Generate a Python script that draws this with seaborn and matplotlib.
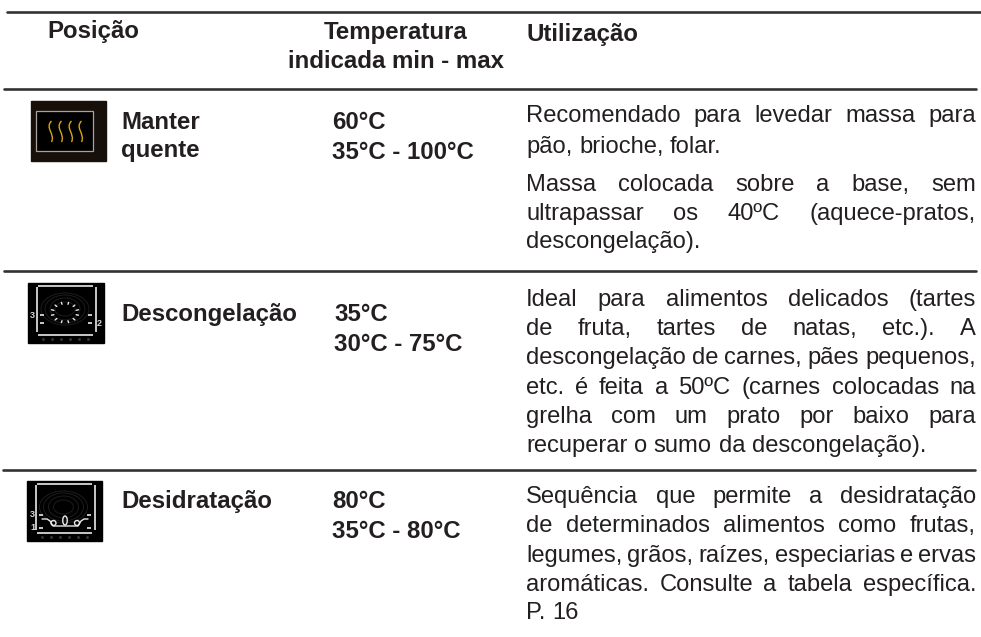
#!/usr/bin/env python
'''
Oven function table, drawn on one full-figure axes in pixel coordinates
'''
import numpy as np
import pandas as pd
import matplotlib
matplotlib.use('Agg')
import matplotlib.pyplot as plt
import seaborn as sns
from matplotlib.patches import Ellipse, PathPatch, Rectangle
from matplotlib.path import Path


# table contents
headers = ['Posição', 'Temperatura', 'indicada min - max', 'Utilização']
positions = [['Manter', 'quente'], ['Descongelação'], ['Desidratação']]
temperatures = [
    ['60°C', '35°C - 100°C'],
    ['35°C', '30°C - 75°C'],
    ['80°C', '35°C - 80°C'],
]
# (text, justified)
usage = [
    [('Recomendado para levedar massa para', True),
     ('pão, brioche, folar.', False),
     ('Massa colocada sobre a base, sem', True),
     ('ultrapassar os 40ºC (aquece-pratos,', True),
     ('descongelação).', False)],
    [('Ideal para alimentos delicados (tartes', True),
     ('de fruta, tartes de natas, etc.). A', True),
     ('descongelação de carnes, pães pequenos,', True),
     ('etc. é feita a 50ºC (carnes colocadas na', True),
     ('grelha com um prato por baixo para', True),
     ('recuperar o sumo da descongelação).', False)],
    [('Sequência que permite a desidratação', True),
     ('de determinados alimentos como frutas,', True),
     ('legumes, grãos, raízes, especiarias e ervas', True),
     ('aromáticas. Consulte a tabela específica.', True),
     ('P. 16', False)],
]

# layout in pixels
rule_y = [11.5, 89, 271, 470]
rule_x0 = [7, 4, 4, 3]
rule_x1 = [981, 976, 976, 975]
usage_y = [
    [122.3, 152.7, 190.7, 220, 248],
    [306, 335.3, 364.3, 394, 423.3, 452],
    [502.7, 532.3, 561.7, 591, 619.3],
]
position_y = [[129, 157], [321], [507.7]]
position_x = 121.5
temperature_x = [332, 334, 332]
temperature_y = [[129, 158.7], [321, 351], [508, 537.7]]

INK = '#231f20'
BODY_SIZE = 17.1
BOLD_SIZE = 17.3


def justified(ax, text, x0, x1, y, stretch):
    '''write a line word by word, spreading the words between x0 and x1'''
    renderer = ax.figure.canvas.get_renderer()
    words = text.split(' ')
    artists = [ax.text(0, y, w, color=INK, fontsize=BODY_SIZE, va='baseline')
               for w in words]
    widths = [a.get_window_extent(renderer).width for a in artists]
    if stretch:
        gap = (x1 - x0 - sum(widths)) / (len(words) - 1)
    else:
        gap = BODY_SIZE * 100 / 72 * 0.278
    x = x0
    for a, w in zip(artists, widths):
        a.set_x(x)
        x += w + gap


def oven_frame(ax, x0, y0, x1, y1, ticks, labels):
    '''black icon background with the oven outline and shelf marks'''
    ax.add_patch(Rectangle((x0, y0), x1 - x0, y1 - y0, color='black', zorder=3))
    cx = (x0 + x1) / 2 - 1
    # faint fan drawing behind the symbol
    for rx, ry in [(10, 7), (15, 11), (20, 14), (24, 16)]:
        ax.add_patch(Ellipse((cx, y0 + 26), rx * 2, ry * 2, fill=False,
                             ec='#1d1d1d', lw=0.7, zorder=4))
    white = {'color': '#c8c8c8', 'lw': 1.4, 'zorder': 5, 'solid_capstyle': 'butt'}
    ax.plot([x0 + 10, x0 + 65], [y0 + 2.7, y0 + 2.7], **white)
    ax.plot([x0 + 10, x0 + 65], [y0 + 51.5, y0 + 51.5], **white)
    ax.plot([x0 + 8.5, x0 + 8.5], [y0 + 4, y0 + 49], **white)
    ax.plot([x0 + 67.5, x0 + 67.5], [y0 + 4, y0 + 49], **white)
    for t in ticks:
        ax.plot([x0 + 11.5, x0 + 15.5], [y0 + t, y0 + t], **white)
        ax.plot([x0 + 60, x0 + 64], [y0 + t, y0 + t], **white)
    for lx, ly, s in labels:
        ax.text(x0 + lx, y0 + ly, s, color='#d8d8d8', fontsize=6.5,
                fontweight='bold', ha='center', va='center', zorder=5)
    for k in range(6):
        ax.plot(x0 + 14.5 + 9 * k, y0 + 55.7, 's', color='#333333', ms=1, zorder=5)


def heat_icon(ax):
    '''keep warm symbol: yellow wavy lines in a grey frame'''
    ax.add_patch(Rectangle((31, 101), 75, 60, color='#17100a', zorder=3))
    ax.add_patch(Rectangle((36, 111), 57, 40, fc='black', ec='#a8a49c',
                           lw=0.9, zorder=4))
    for x in [49.5, 59.5, 69.5, 79.5]:
        verts = [(x + 2, 121), (x - 5, 128), (x + 6, 134), (x + 2, 142)]
        codes = [Path.MOVETO, Path.CURVE4, Path.CURVE4, Path.CURVE4]
        ax.add_patch(PathPatch(Path(verts, codes), fill=False, ec='#d9a514',
                               lw=1.0, zorder=5))


def defrost_icon(ax):
    oven_frame(ax, 28, 283, 104, 343, [32, 40], [(4, 32, '3'), (71.5, 40, '2')])
    for ang in np.arange(0, 360, 30) + 15:
        a = np.deg2rad(ang)
        px = 65 + np.array([11.5, 14]) * np.cos(a)
        py = 312.5 + np.array([8.5, 10.5]) * np.sin(a)
        ax.plot(px, py, color='#e8e8e8', lw=1, zorder=5)


def drying_icon(ax):
    oven_frame(ax, 27, 481, 102, 541, [33.5, 46.7], [(5, 33.5, '3'), (6, 46.7, '1')])
    line = {'color': '#e8e8e8', 'lw': 1, 'zorder': 5}
    ax.add_patch(Ellipse((65, 520.5), 4.5, 9, fill=False, ec='#e8e8e8',
                         lw=1, zorder=5))
    ax.add_patch(Ellipse((53.5, 523), 5, 5, fill=False, ec='#e8e8e8',
                         lw=1, zorder=5))
    ax.add_patch(Ellipse((77, 523), 5, 5, fill=False, ec='#e8e8e8',
                         lw=1, zorder=5))
    ax.plot([42, 47, 50, 53, 78, 81, 84, 88],
            [519, 519, 521, 526, 526, 521, 519, 519], **line)


def main():
    sns.set_theme(style='white', rc={'font.family': ['Liberation Sans', 'DejaVu Sans']})
    fig = plt.figure(figsize=(9.81, 6.37), dpi=100)
    ax = fig.add_axes([0, 0, 1, 1])

    # horizontal rules
    df_rules = pd.DataFrame({
        'x': rule_x0 + rule_x1,
        'y': rule_y + rule_y,
        'rule': list(range(4)) * 2,
    })
    sns.lineplot(data=df_rules, x='x', y='y', units='rule', estimator=None,
                 color='#333333', lw=1.9, ax=ax, legend=False)
    ax.set_xlim(0, 981)
    ax.set_ylim(637, 0)
    ax.axis('off')
    fig.canvas.draw()

    bold = {'color': INK, 'fontsize': BOLD_SIZE, 'fontweight': 'bold', 'va': 'baseline'}
    ax.text(47.5, 38, headers[0], **bold)
    ax.text(396, 39, headers[1], ha='center', **bold)
    ax.text(396, 68, headers[2], ha='center', **bold)
    ax.text(526, 41, headers[3], **bold)

    for names, ys in zip(positions, position_y):
        for name, y in zip(names, ys):
            ax.text(position_x, y, name, **bold)
    for temps, x, ys in zip(temperatures, temperature_x, temperature_y):
        for temp, y in zip(temps, ys):
            ax.text(x, y, temp, **bold)

    for lines, ys in zip(usage, usage_y):
        for (text, stretch), y in zip(lines, ys):
            justified(ax, text, 526, 976, y, stretch)

    heat_icon(ax)
    defrost_icon(ax)
    drying_icon(ax)

    fig.savefig('out.png', dpi=100)


if __name__ == '__main__':
    main()
